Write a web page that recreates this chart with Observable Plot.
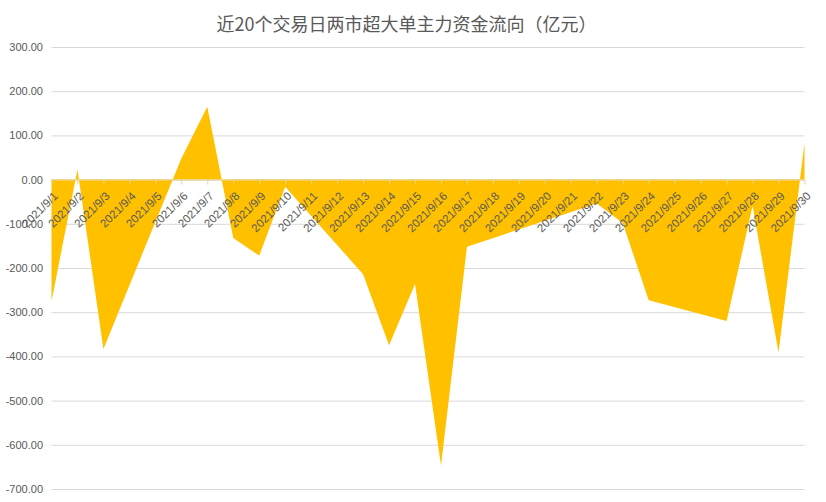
<!DOCTYPE html>
<html><head><meta charset="utf-8">
<script src="https://cdn.jsdelivr.net/npm/d3@7"></script>
<script src="https://cdn.jsdelivr.net/npm/@observablehq/plot@0.6"></script>
<style>body{margin:0;background:#fff;} #chart svg{display:block;}</style>
</head><body><div id="chart"></div>
<script>
const title = "近20个交易日两市超大单主力资金流向（亿元）";
const tradeDates = ["2021/9/1","2021/9/2","2021/9/3","2021/9/6","2021/9/7","2021/9/8","2021/9/9","2021/9/10",
  "2021/9/13","2021/9/14","2021/9/15","2021/9/16","2021/9/17","2021/9/22","2021/9/23","2021/9/24",
  "2021/9/27","2021/9/28","2021/9/29","2021/9/30"];
const flows = [-275, 23, -383, 48, 165, -132, -172, -16, -214, -375, -236, -647, -152, -54, -98, -273, -320, -60, -391, 83];
const dateLabels = ["2021/9/1","2021/9/2","2021/9/3","2021/9/4","2021/9/5","2021/9/6","2021/9/7","2021/9/8","2021/9/9","2021/9/10",
  "2021/9/11","2021/9/12","2021/9/13","2021/9/14","2021/9/15","2021/9/16","2021/9/17","2021/9/18","2021/9/19","2021/9/20",
  "2021/9/21","2021/9/22","2021/9/23","2021/9/24","2021/9/25","2021/9/26","2021/9/27","2021/9/28","2021/9/29","2021/9/30"];
const yTicks = [300, 200, 100, 0, -100, -200, -300, -400, -500, -600, -700];

const parse = s => { const [y, m, d] = s.split("/").map(Number); return new Date(Date.UTC(y, m - 1, d)); };
const data = tradeDates.map((s, i) => ({date: parse(s), value: flows[i]}));
const labels = dateLabels.map(s => ({date: parse(s), label: s}));

const chart = Plot.plot({
  width: 826, height: 502,
  marginLeft: 51.5, marginRight: 21.5, marginTop: 47, marginBottom: 13,
  style: {fontFamily: "'Liberation Sans', 'Noto Sans CJK SC', sans-serif", fontSize: "11px", color: "#595959", background: "#fff"},
  x: {type: "utc", domain: [parse(dateLabels[0]), parse(dateLabels[dateLabels.length - 1])], axis: null},
  y: {domain: [-700, 300], axis: null},
  marks: [
    Plot.gridY(yTicks, {stroke: "#d9d9d9", strokeOpacity: 1}),
    Plot.areaY(data, {x: "date", y: "value", fill: "#FFC000", curve: "linear"}),
    Plot.ruleY([0], {stroke: "#e6d39a", strokeWidth: 1}),
    Plot.ruleX(labels, {x: "date", y1: () => 0, y2: () => 0, insetBottom: -5, stroke: "#e6d39a"}),
    Plot.axisY(yTicks, {tickFormat: d => d.toFixed(2), tickSize: 0, tickPadding: 9, fill: "#595959", fontSize: 11, label: null}),
    Plot.text(labels, {x: "date", y: () => 0, text: "label", rotate: -45, textAnchor: "end", dx: 4, dy: 14, fill: "#595959", fontSize: 11.5}),
    Plot.text([title], {frameAnchor: "top", dx: -22, dy: -29, fontSize: 18, fill: "#595959", fontFamily: "'Noto Sans CJK SC', sans-serif"})
  ]
});
document.getElementById("chart").appendChild(chart);
</script>
</body></html>
